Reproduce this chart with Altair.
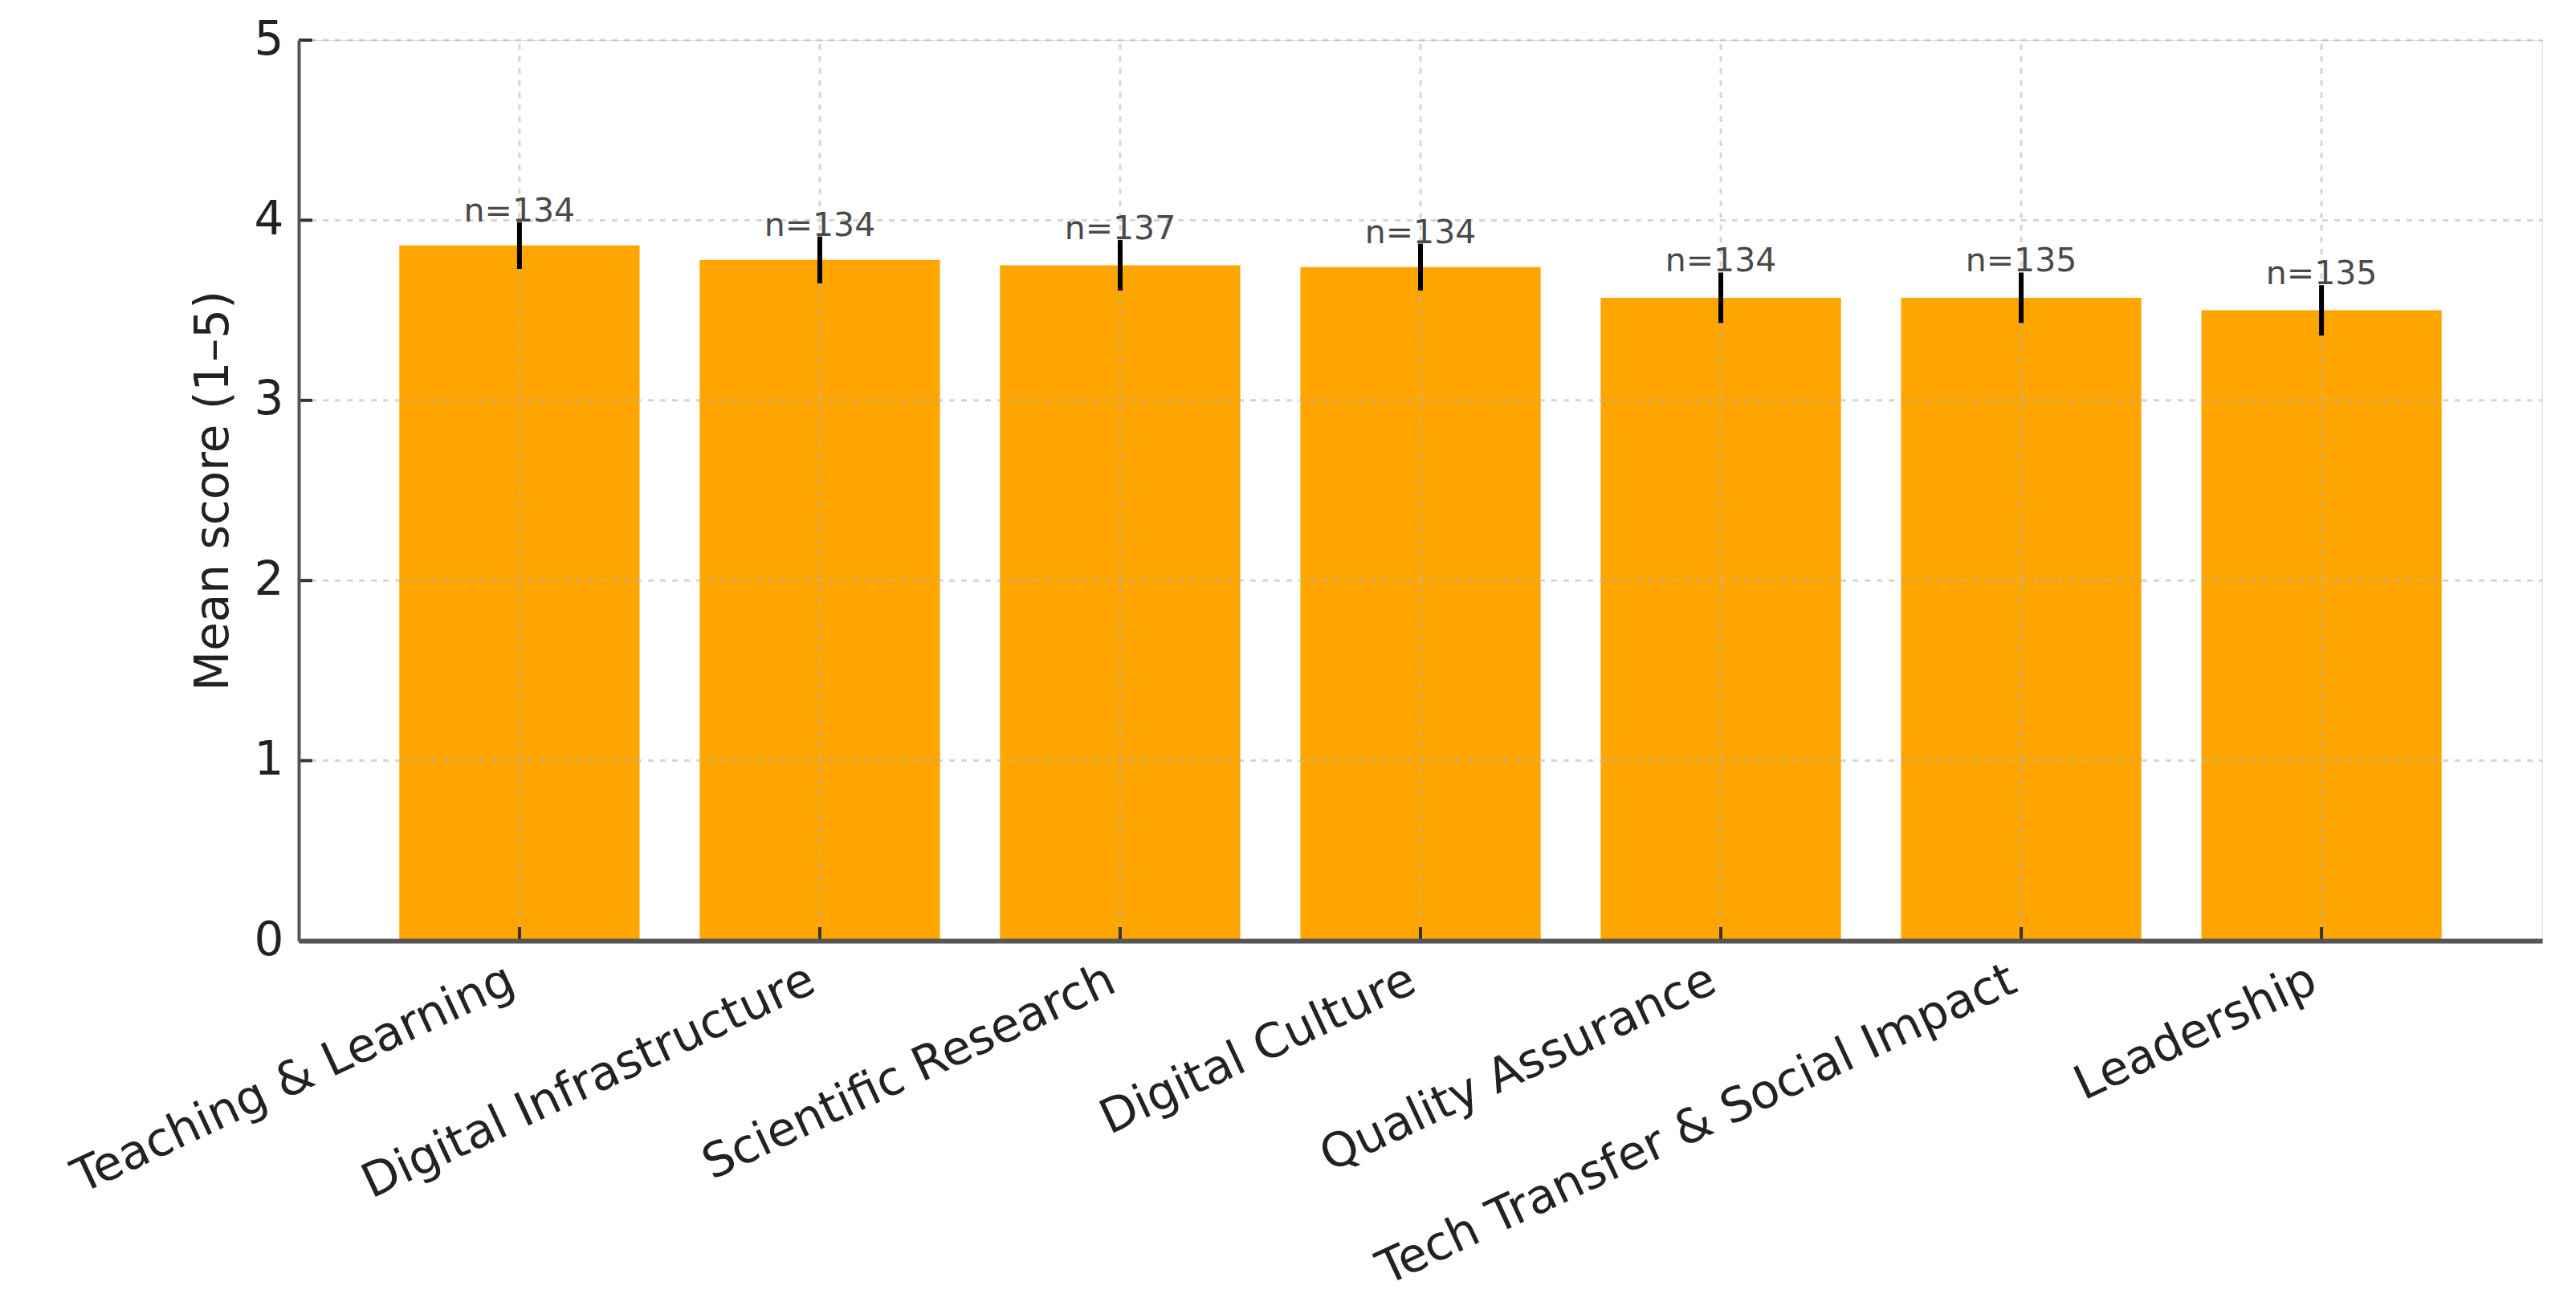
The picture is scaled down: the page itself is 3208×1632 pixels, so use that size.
import altair as alt
import pandas as pd

categories = ["Teaching & Learning", "Digital Infrastructure", "Scientific Research",
              "Digital Culture", "Quality Assurance", "Tech Transfer & Social Impact", "Leadership"]
means = [3.86, 3.78, 3.75, 3.74, 3.57, 3.57, 3.50]
errors = [0.13, 0.13, 0.14, 0.13, 0.14, 0.14, 0.14]
ns = [134, 134, 137, 134, 134, 135, 135]
y_ticks = [0, 1, 2, 3, 4, 5]
y_top = 5

df = pd.DataFrame({"category": categories, "mean": means, "err": errors, "n": ns})
df["lo"] = df["mean"] - df["err"]
df["hi"] = df["mean"] + df["err"]
df["label"] = ["n=%d" % v for v in ns]
tick_df = pd.DataFrame({"tick": y_ticks})
hgrid_df = pd.DataFrame({"tick": y_ticks[1:]})

FONT = "DejaVu Sans"
GRID_DASH = [7, 8]
GRID_COLOR = "#b4b4b4"

x_axis = alt.Axis(
    title=None, labelAngle=-25, labelAlign="right", labelBaseline="top",
    labelFontSize=59, labelColor="#222222", labelFont=FONT, labelPadding=19,
    labelOffset=-22, labelLimit=0, labelOverlap=False,
    ticks=False, tickSize=0, domainColor="#555555", domainWidth=6,
    grid=False, zindex=1,
)
y_axis = alt.Axis(
    title="Mean score (1–5)", titleFontSize=58, titleFont=FONT, titleColor="#222222",
    titleFontWeight="normal", titlePadding=21,
    values=y_ticks, labelFontSize=58, labelFont=FONT, labelColor="#222222", labelPadding=19,
    ticks=False, tickSize=0, domainColor="#555555", domainWidth=4,
    grid=False, zindex=1,
)
x_scale = alt.Scale(paddingInner=0.2, paddingOuter=0.335)
y_scale = alt.Scale(domain=[0, 5], nice=False, zero=True)

x_enc = alt.X("category:N", sort=categories, scale=x_scale, axis=x_axis)

base = alt.Chart(df)

bars = base.mark_bar(color="#FFA500").encode(
    x=x_enc,
    y=alt.Y("mean:Q", scale=y_scale, axis=y_axis),
)

vgrid = base.mark_rule(color=GRID_COLOR, strokeWidth=3, strokeDash=GRID_DASH, opacity=0.55).encode(
    x=x_enc,
    y=alt.Y(datum=0, scale=y_scale, axis=y_axis),
    y2=alt.Y2(datum=y_top),
)

hgrid = alt.Chart(hgrid_df).mark_rule(color=GRID_COLOR, strokeWidth=3, strokeDash=GRID_DASH, opacity=0.55).encode(
    y=alt.Y("tick:Q", scale=y_scale, axis=y_axis),
    x=alt.value(0),
    x2=alt.value(2794),
)

err = base.mark_rule(color="#000000", strokeWidth=6).encode(
    x=x_enc,
    y=alt.Y("lo:Q", scale=y_scale, axis=y_axis),
    y2="hi:Q",
)

labels = base.mark_text(
    font=FONT, fontSize=41, color="#4a4a4a", baseline="alphabetic", align="center", dy=-1
).encode(
    x=x_enc,
    y=alt.Y("hi:Q", scale=y_scale, axis=y_axis),
    text="label:N",
)

xticks = base.mark_rule(color="#333333", strokeWidth=4, y2Offset=-17).encode(
    x=x_enc,
    y=alt.Y(datum=0, scale=y_scale, axis=y_axis),
    y2=alt.Y2(datum=0),
)

yticks = alt.Chart(tick_df).mark_rule(color="#333333", strokeWidth=4).encode(
    y=alt.Y("tick:Q", scale=y_scale, axis=y_axis),
    x=alt.value(0),
    x2=alt.value(17),
)

chart = alt.layer(bars, vgrid, hgrid, err, labels, xticks, yticks).properties(
    width=2794, height=1122,
    autosize=alt.AutoSizeParams(type="none"),
    padding={"left": 364, "top": 42, "right": 30, "bottom": 452},
).configure_view(stroke=None).configure(background="#ffffff")

chart.save("out.html", embed_options={"renderer": "svg", "actions": False})
